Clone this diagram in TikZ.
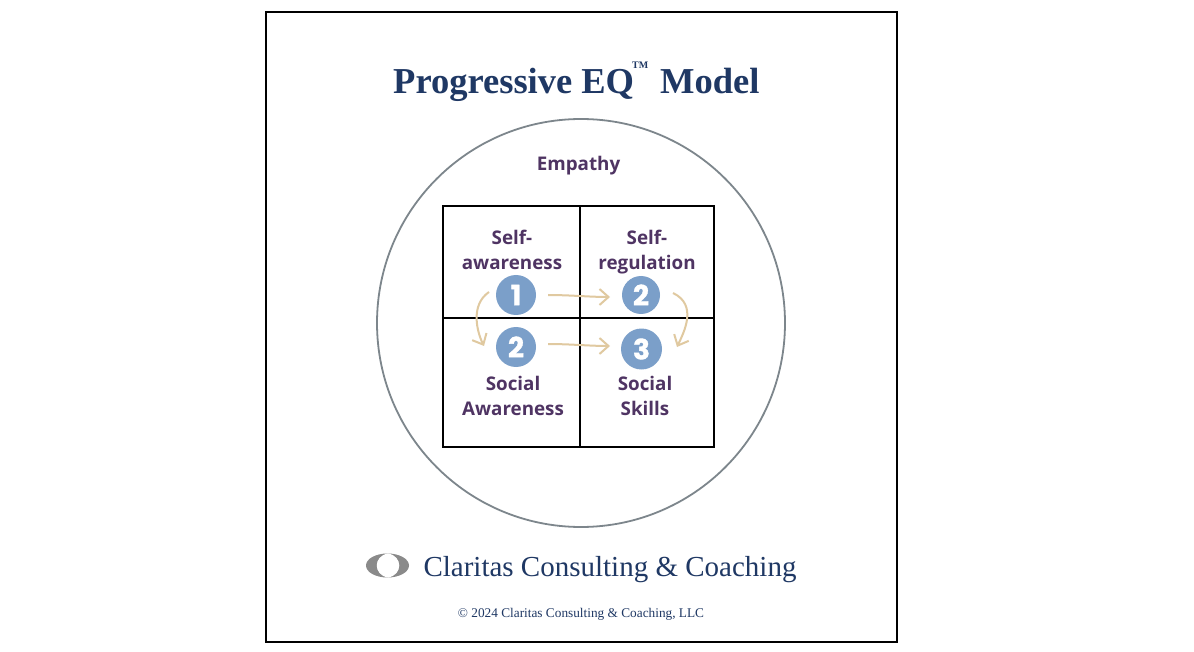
\documentclass[tikz,border=0pt]{standalone}
\usepackage{fontspec}
\usepackage{xcolor}
\usetikzlibrary{arrows.meta}
\setmainfont{Liberation Serif}
\newfontfamily\labelfont{Open Sans}
\newfontfamily\digitfont[BoldFeatures={FakeBold=1.2}]{Poppins}
\definecolor{navy}{HTML}{1F3864}
\definecolor{plum}{HTML}{4F3463}
\definecolor{sand}{HTML}{E0C9A0}
\definecolor{steel}{HTML}{7B9FC9}
\definecolor{ringgray}{HTML}{7D868C}
\definecolor{eyegray}{HTML}{8A8A8A}
\tikzset{
  titletext/.style={font=\fontsize{36.5}{36.5}\selectfont\bfseries,text=navy,anchor=base west,inner sep=0pt},
  quadlabel/.style={font=\labelfont\bfseries\fontsize{18.8}{25.5}\selectfont,text=plum,align=center},
  stepdot/.style={shape=circle,fill=steel,text=white,inner sep=0pt,minimum size=40,font=\digitfont\bfseries\fontsize{28}{28}\selectfont},
  flow/.style={-{Straight Barb[length=9pt,width=16pt]},sand,line width=2pt}
}
\begin{document}
\begin{tikzpicture}[x=1pt,y=-1pt]
\useasboundingbox (0,0) rectangle (1194,652);
\fill[white](0,0) rectangle (1194,652);
\draw[line width=1.5pt](266,12) rectangle (897,642);
\draw[ringgray,line width=1.8pt](581,323) circle (204);
\draw[line width=1.5pt](443,206) rectangle (714,447);
\draw[line width=1.5pt](580,206)--(580,447);
\draw[line width=1.5pt](443,318)--(714,318);
\node[titletext] (title) at (393,93.5) {Progressive EQ};
\node[titletext,font=\fontsize{10}{10}\selectfont\bfseries] (tm) at (632,68.5) {TM};
\node[titletext] (model) at (660,93.5) {Model};
\node[quadlabel] (empathy) at (578.5,166) {Empathy};
\node[quadlabel] (selfaware) at (512,250) {Self-\\awareness};
\node[quadlabel] (selfreg) at (647,252) {Self-\\regulation};
\node[quadlabel] (socialaware) at (513,396) {Social\\Awareness};
\node[quadlabel] (socialskills) at (645,396) {Social\\Skills};
\node[stepdot] (one) at (516,295) {1};
\node[stepdot,minimum size=38] (twotop) at (641,295) {2};
\node[stepdot] (twobot) at (516,347) {2};
\node[stepdot,minimum size=41] (three) at (641.5,349) {3};
\coordinate (outa) at (489,292);
\coordinate (ina) at (484,346);
\coordinate (outb) at (673,293);
\coordinate (inb) at (677,347);
\coordinate (outc) at (548,295);
\coordinate (inc) at (610,297);
\coordinate (outd) at (548,344);
\coordinate (ind) at (610,346);
\draw[flow](outa) .. controls (470,305) and (477,332) .. (ina);
\draw[flow](outb) .. controls (698,305) and (684,332) .. (inb);
\draw[flow](outc) .. controls (570,295) and (590,297) .. (inc);
\draw[flow](outd) .. controls (570,344) and (590,346) .. (ind);
% logo
\fill[eyegray](387.5,565.5) ellipse (21.5 and 12);
\fill[white](388,553.5) .. controls (373,556) and (373,575) .. (388,577.5) .. controls (403,575) and (403,556) .. (388,553.5);
\node[text=navy,font=\fontsize{29}{29}\selectfont] (brand) at (610,570) {Claritas Consulting \& Coaching};
\node[text=navy,font=\fontsize{13.3}{13.3}\selectfont] (copyright) at (581,614) {© 2024 Claritas Consulting \& Coaching, LLC};
\end{tikzpicture}
\end{document}
